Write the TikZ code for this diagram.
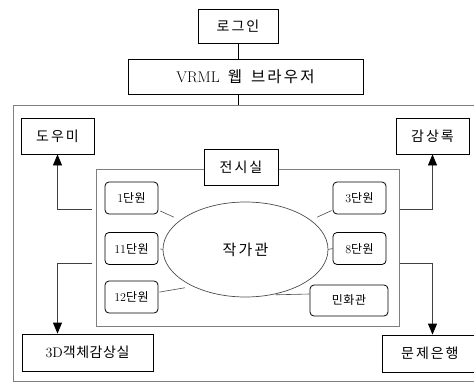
\documentclass[tikz,border=0pt]{standalone}
\usepackage{fontspec}
\newfontfamily\cjk[LetterSpace=14]{Noto Sans CJK KR}
\newfontfamily\cjks[LetterSpace=4]{Noto Sans CJK KR}
\usetikzlibrary{arrows.meta,shapes.geometric,calc}
\tikzset{
  box/.style={draw=black, line width=0.8pt, fill=white, inner sep=0pt, font=\fontsize{14}{16}\selectfont},
  unit/.style={draw=black, line width=0.8pt, rounded corners=4pt, inner sep=0pt, minimum width=53pt, minimum height=32pt, font=\fontsize{12}{14}\selectfont},
  frame/.style={draw=black!50, line width=1.2pt, inner sep=0pt},
  link/.style={draw=black!70, line width=0.6pt},
  arr/.style={draw=black!75, line width=0.8pt, -{Triangle[length=11pt,width=9pt,color=black]}},
}
\begin{document}
\begin{tikzpicture}[x=1pt,y=-1pt]
\useasboundingbox (0,0) rectangle (474,383);
\clip (0,0) rectangle (474,383);
% outer frame
\node[frame, minimum width=470pt, minimum height=276pt, anchor=north west] (outer) at (13,105) {};
% top chain
\node[box, minimum width=80pt, minimum height=34pt] (login) at (238,26) {\cjk 로그인};
\node[box, minimum width=235pt, minimum height=35pt, font=\fontsize{15.5}{17}\selectfont] (vrml) at (245.5,76.5) {VRML\hspace{8pt}{\cjk 웹}\hspace{9pt}{\cjk 브라우저}};
\draw[link, draw=black] (login.south) -- (login.south |- vrml.north);
\draw[link, draw=black] (login.south |- vrml.south) -- (login.south |- outer.north);
% corner boxes
\node[box, minimum width=73pt, minimum height=36pt] (help) at (57.5,136) {\cjk 도우미};
\node[box, minimum width=73pt, minimum height=36pt] (review) at (432.5,136) {\cjk 감상록};
\node[box, minimum width=131pt, minimum height=37pt] (obj) at (87.5,352.5) {3D\cjks 객체감상실};
\node[box, minimum width=110pt, minimum height=37pt, anchor=west] (bank) at (382,353.5) {\hspace*{-15pt}\cjk 문제은행};
% inner exhibition frame
\node[frame, minimum width=303pt, minimum height=157pt, anchor=north west] (inner) at (96,169) {};
\node[box, minimum width=74pt, minimum height=36pt] (hall) at (241,167) {\cjk 전시실};
% units and ellipse
\node[ellipse, draw=black!70, line width=0.7pt, minimum width=165pt, minimum height=95pt, inner sep=0pt, font=\fontsize{15}{17}\selectfont] (ell) at (245.5,249.5) {\cjk 작가관};
\node[unit] (u1) at (131.5,198) {1\cjks 단원};
\node[unit] (u3) at (359.5,198) {3\cjks 단원};
\node[unit] (u11) at (131.5,248.5) {11\cjks 단원};
\node[unit] (u8) at (359.5,248.5) {8\cjks 단원};
\node[unit] (u12) at (131.5,297) {12\cjks 단원};
\node[unit, minimum width=78pt, minimum height=31pt] (mh) at (349,300.5) {\cjks 민화관};
\draw[link, shorten <=2pt, shorten >=7pt] (u1) -- (ell);
\draw[link, shorten <=1pt, shorten >=7pt] (u3) -- (ell);
\draw[link, shorten <=2pt] (u11.east) -- (ell.west);
\draw[link, shorten <=0pt] (u8.west) -- (ell.east);
\draw[link, shorten <=1pt, shorten >=8pt] (u12.10) -- (ell.215);
\draw[link, shorten >=4pt] (mh.west |- 0,294) -- (ell.300);
% arrows
\draw[arr, shorten <=4pt] (inner.west |- 0,209) -| (help.south);
\draw[arr] (inner.east |- 0,209) -| (review.south);
\draw[arr, shorten <=4pt] (inner.west |- 0,263) -| (help.south |- obj.north);
\draw[arr] (inner.east |- 0,263) -| (review.south |- bank.north);
\end{tikzpicture}
\end{document}
